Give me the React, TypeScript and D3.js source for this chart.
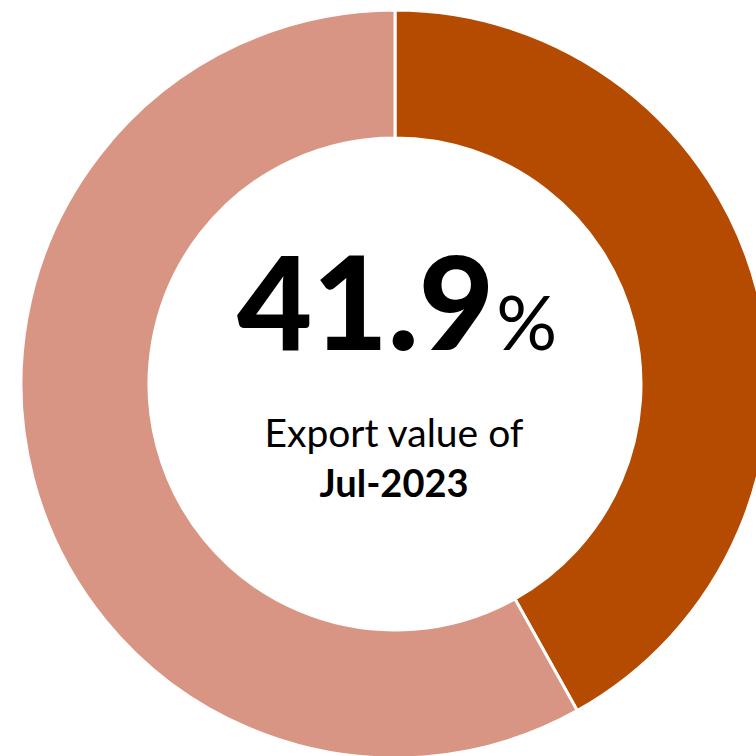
import React from "react";
import * as d3 from "d3";

const categories = ["Share", "Rest"];
const values = [41.9, 58.1];
const colors = ["#B54B00", "#D99584"];
const mainLabel = "41.9";
const subLine1 = "Export value of";
const subLine2 = "Jul-2023";

export default function App() {
  const W = 756, H = 756;
  const cx = 395, cy = 384;
  const outer = 374, inner = 246;
  const pie = d3.pie<number>().sort(null).value((d) => d)(values);
  const arc = d3.arc<d3.PieArcDatum<number>>().innerRadius(inner).outerRadius(outer);
  return (
    <svg width={W} height={H} style={{ position: "absolute", left: 0, top: 0 }}>
      <rect width={W} height={H} fill="#fff" />
      <g transform={`translate(${cx},${cy})`}>
        {pie.map((p, i) => (
          <path key={categories[i]} d={arc(p) || ""} fill={colors[i]} stroke="#fff" strokeWidth={3} />
        ))}
      </g>
      <text x={237} y={350} fontFamily="Lato, sans-serif" fontSize={0} fill="#000">
        <tspan fontWeight={900} fontSize={130}>{mainLabel}</tspan>
        <tspan fontWeight={400} fontSize={76} dx={2}>%</tspan>
      </text>
      <text x={394} y={447} textAnchor="middle" fontFamily="Lato, sans-serif" fontSize={39} fill="#000">{subLine1}</text>
      <text x={394} y={497} textAnchor="middle" fontFamily="Lato, sans-serif" fontWeight={700} fontSize={38} fill="#000">{subLine2}</text>
    </svg>
  );
}
